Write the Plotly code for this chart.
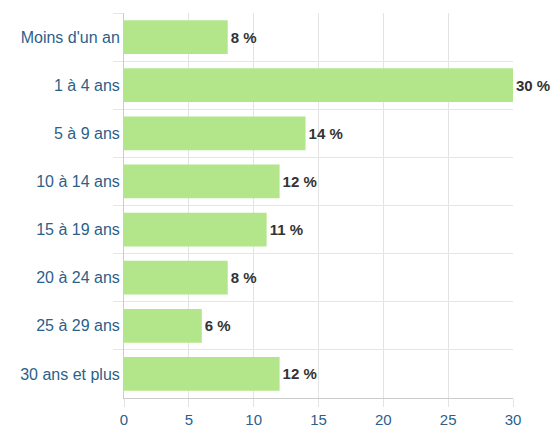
import plotly.graph_objects as go

categories = ["Moins d'un an", "1 à 4 ans", "5 à 9 ans", "10 à 14 ans",
              "15 à 19 ans", "20 à 24 ans", "25 à 29 ans", "30 ans et plus"]
values = [8, 30, 14, 12, 11, 8, 6, 12]
x_ticks = [0, 5, 10, 15, 20, 25, 30]

FONT = "Liberation Sans, Arial, sans-serif"

fig = go.Figure(go.Bar(
    x=values, y=categories, orientation="h",
    marker=dict(color="#b3e68a", line=dict(width=0)),
    texttemplate="%{x} %", textposition="outside",
    textfont=dict(family=FONT, size=15, color="#333333", weight="bold"),
    cliponaxis=False,
))

fig.update_layout(
    width=553, height=428,
    margin=dict(l=124, r=40, t=13, b=30, autoexpand=False),
    paper_bgcolor="white", plot_bgcolor="white",
    bargap=0.3,
    showlegend=False,
    font=dict(family=FONT, size=15, color="#2d5f8a"),
)
fig.update_xaxes(
    range=[0, 30], tickvals=x_ticks, showgrid=True, gridcolor="#e3e3e3",
    zeroline=False, showline=True, linecolor="#cccccc",
    ticks="outside", ticklen=8, tickcolor="#e3e3e3",
    tickfont=dict(size=15, color="#2d5f8a"), automargin=False,
)
fig.update_yaxes(
    autorange="reversed", type="category", tickson="boundaries",
    showgrid=True, gridcolor="#e6e6e6",
    showline=True, linecolor="#cccccc",
    ticks="outside", ticklen=10, tickcolor="#e6e6e6",
    tickfont=dict(size=16, color="#2d5f8a"), automargin=False,
)

fig.write_html("out.html", config={"displayModeBar": False},
               post_script="document.body.style.margin='0';")
